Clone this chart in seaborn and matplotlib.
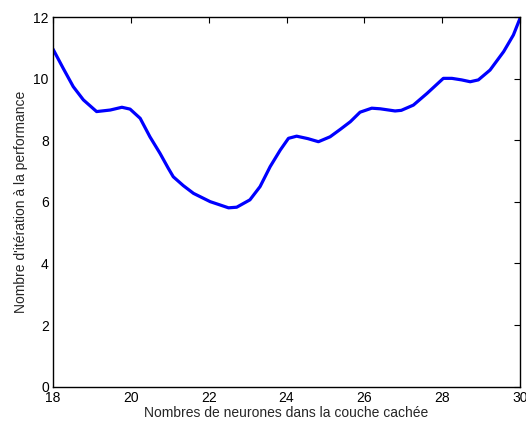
import matplotlib
matplotlib.use("Agg")
import matplotlib.pyplot as plt
import seaborn as sns
import pandas as pd

# valeurs
neurones = [18.0, 18.26, 18.52, 18.78, 19.12, 19.47, 19.77, 19.98, 20.24, 20.49,
            20.75, 20.96, 21.09, 21.35, 21.61, 22.04, 22.3, 22.51, 22.72, 23.06,
            23.32, 23.58, 23.84, 24.05, 24.26, 24.55, 24.82, 25.12, 25.38, 25.64,
            25.89, 26.19, 26.41, 26.79, 26.95, 27.26, 27.61, 28.03, 28.25, 28.5,
            28.72, 28.93, 29.23, 29.58, 29.83, 30.0]
iterations = [10.97, 10.35, 9.75, 9.32, 8.94, 8.99, 9.08, 9.02, 8.72, 8.12,
              7.58, 7.1, 6.82, 6.53, 6.28, 6.01, 5.9, 5.81, 5.83, 6.07,
              6.5, 7.15, 7.69, 8.07, 8.14, 8.06, 7.96, 8.12, 8.36, 8.61,
              8.92, 9.05, 9.03, 8.96, 8.98, 9.15, 9.53, 10.02, 10.02, 9.97,
              9.91, 9.97, 10.29, 10.89, 11.43, 11.97]

df = pd.DataFrame({"x": neurones, "y": iterations})

sns.set_style("white")
plt.rcParams['font.family'] = ['Liberation Sans', 'DejaVu Sans']

fig = plt.figure(figsize=(5.26, 4.26), dpi=100)
ax = fig.add_axes([0.1008, 0.0927, 0.8878, 0.8663])

sns.lineplot(data=df, x="x", y="y", ax=ax, color=(0, 0, 1), linewidth=2.3)

ax.set_xlim(18, 30)
ax.set_ylim(0, 12)
ax.set_xticks(range(18, 31, 2))
ax.set_yticks(range(0, 13, 2))
ax.tick_params(direction="in", length=4, width=0.8, top=True, right=True,
               labelsize=10, colors="black", pad=3)
for s in ax.spines.values():
    s.set_color("black")
    s.set_linewidth(1.0)

ax.set_xlabel("Nombres de neurones dans la couche cachée", fontsize=10, labelpad=1)
ax.set_ylabel("Nombre d'itération à la performance", fontsize=10, labelpad=4)

fig.savefig("out.png", dpi=100)
